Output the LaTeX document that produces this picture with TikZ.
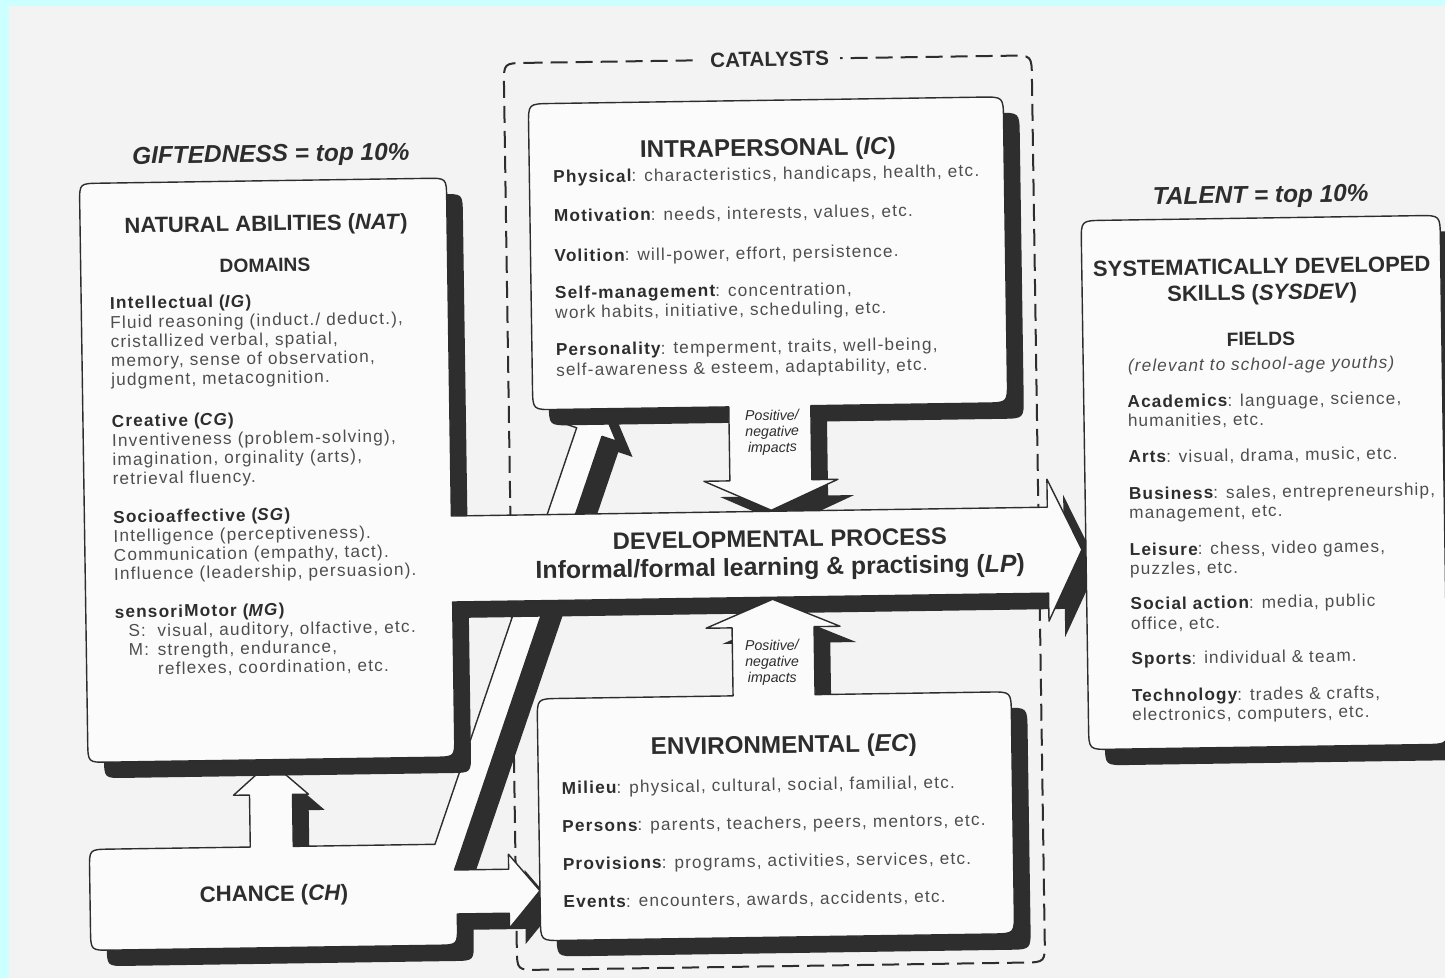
\documentclass[tikz,border=0pt]{standalone}
\usepackage{fontspec}
\setmainfont{Liberation Sans}
\newfontfamily\bodyfont[LetterSpace=7]{Liberation Sans}
\newfontfamily\fieldfont[LetterSpace=6.5]{Liberation Sans}
\definecolor{cyanbg}{RGB}{204,255,255}
\definecolor{paper}{RGB}{243,243,243}
\definecolor{boxfill}{RGB}{251,251,251}
\definecolor{shade}{RGB}{46,46,46}
\definecolor{ink}{RGB}{45,45,45}
\definecolor{bodyink}{RGB}{78,78,78}
\newcommand\keyterm[1]{\textcolor{ink}{\bfseries #1}}
\newcommand\bodysize{\bodyfont\fontsize{8.6}{10}\selectfont}
\newcommand\fieldsize{\fieldfont\fontsize{8.6}{10}\selectfont}
\begin{document}
\begin{tikzpicture}[x=0.5pt,y=-0.5pt,
  shadowfill/.style={fill=shade,draw=none},
  boxface/.style={fill=boxfill,draw=ink,line width=0.7pt,line join=round},
  catalyst/.style={draw=ink,line width=1pt,dash pattern=on 8.5pt off 4pt},
  body/.style={font=\bodysize,text=bodyink,inner sep=0pt,anchor=base west},
  field/.style={font=\fieldsize,text=bodyink,inner sep=0pt,anchor=base west},
  bigtitle/.style={font=\bfseries\fontsize{12.1}{14}\selectfont,text=ink,inner sep=0pt,anchor=base},
  headline/.style={font=\bfseries\itshape\fontsize{12.2}{14}\selectfont,text=ink,inner sep=0pt,anchor=base},
  subhead/.style={font=\bfseries\fontsize{9.6}{12}\selectfont,text=ink,inner sep=0pt,anchor=base},
  impact/.style={font=\itshape\fontsize{7.1}{8}\selectfont,text=ink,inner sep=0pt,anchor=base}]
\useasboundingbox (0,0) rectangle (1445,978);
\fill[cyanbg] (0,0) rectangle (1445,978);
\fill[paper] (9,6) rectangle (1445,978);

% outlines of the merged box-and-arrow shapes
\def\pathchance{(104,840) -- (245,840) -- (245,788) -- (229,788) -- (266.5,755) -- (304,788) -- (288,788) -- (288,840) -- (429.7,840) -- (577.6,425.6) -- (563.4,420.6) -- (601,400) -- (617,439.6) -- (602.8,434.6) -- (448.9,866) -- (503,866) -- (503,851) -- (534,888) -- (503,925) -- (503,910) -- (451,910) -- (451,921) .. controls (451,941) .. (431,941) -- (104,941) .. controls (84,941) .. (84,921) -- (84,860) .. controls (84,840) .. (104,840) -- cycle}
\def\pathic{(556,101) -- (987,101) .. controls (1009,101) .. (1009,123) -- (1009,385) .. controls (1009,407) .. (987,407) -- (812,407) -- (812,481) -- (838,481) -- (771,511) -- (704,481) -- (730,481) -- (730,407) -- (556,407) .. controls (534,407) .. (534,385) -- (534,123) .. controls (534,101) .. (556,101) -- cycle}
\def\pathnat{(104,174) -- (431,174) .. controls (451,174) .. (451,194) -- (451,512) -- (1047,512) -- (1047,484) -- (1081,555) -- (1047,626) -- (1047,598) -- (451,598) -- (451,733) .. controls (451,753) .. (431,753) -- (104,753) .. controls (84,753) .. (84,733) -- (84,194) .. controls (84,174) .. (104,174) -- cycle}
\def\pathec{(556,696) -- (730,696) -- (730,628) -- (704,628) -- (771,600) -- (838,628) -- (812,628) -- (812,696) -- (986,696) .. controls (1008,696) .. (1008,718) -- (1008,916) .. controls (1008,938) .. (986,938) -- (556,938) .. controls (534,938) .. (534,916) -- (534,718) .. controls (534,696) .. (556,696) -- cycle}
\def\pathsys{(1107,226) -- (1422,226) .. controls (1444,226) .. (1444,248) -- (1444,733) .. controls (1444,755) .. (1422,755) -- (1107,755) .. controls (1085,755) .. (1085,733) -- (1085,248) .. controls (1085,226) .. (1107,226) -- cycle}

\begin{scope}
\clip (9,6) rectangle (1445,978);
\begin{scope}[rotate around={0.85:(722.5,489)},transform shape]

% catalysts frame
\draw[catalyst] (532,60) -- (1016,60) .. controls (1038,60) .. (1038,82) -- (1038,945) .. controls (1038,967) .. (1016,967) -- (532,967) .. controls (510,967) .. (510,945) -- (510,82) .. controls (510,60) .. (532,60) -- cycle;
\node[font=\bfseries\fontsize{10.3}{12}\selectfont,text=ink,fill=paper,inner xsep=5.5pt,inner ysep=2pt] (catalysts) at (776,60) {CATALYSTS};

% shapes, back to front
\fill[shadowfill,shift={(16,16)}] \pathchance;
\path[boxface] \pathchance;
\fill[shadowfill,shift={(16,16)}] \pathic;
\path[boxface] \pathic;
\fill[shadowfill,shift={(16,16)}] \pathnat;
\path[boxface] \pathnat;
\fill[shadowfill,shift={(16,16)}] \pathec;
\path[boxface] \pathec;
\fill[shadowfill,shift={(16,16)}] \pathsys;
\path[boxface] \pathsys;

% headings above the columns
\node[headline] (gifted) at (275.8,155.3) {GIFTEDNESS = top 10\%};
\node[headline] (talent) at (1265,211) {TALENT = top 10\%};

% natural abilities
\node[bigtitle,font=\bfseries\fontsize{11}{13}\selectfont] (natTitle) at (270,224.3) {NATURAL ABILITIES (\textit{NAT})};
\node[subhead] (domains) at (268.3,265.2) {DOMAINS};
\node[body] (igA) at (112.5,300) {\keyterm{Intellectual (\textit{IG})}};
\node[body] (igB) at (112.5,319.2) {Fluid reasoning (induct./ deduct.),};
\node[body] (igC) at (112.5,338.4) {cristallized verbal, spatial,};
\node[body] (igD) at (112.5,357.6) {memory, sense of observation,};
\node[body] (igE) at (112.5,376.8) {judgment, metacognition.};
\node[body] (cgA) at (112.5,418) {\keyterm{Creative (\textit{CG})}};
\node[body] (cgB) at (112.5,437.2) {Inventiveness (problem-solving),};
\node[body] (cgC) at (112.5,456.4) {imagination, orginality (arts),};
\node[body] (cgD) at (112.5,475.6) {retrieval fluency.};
\node[body] (sgA) at (112.5,514) {\keyterm{Socioaffective (\textit{SG})}};
\node[body] (sgB) at (112.5,533) {Intelligence (perceptiveness).};
\node[body] (sgC) at (112.5,552) {Communication (empathy, tact).};
\node[body] (sgD) at (112.5,571) {Influence (leadership, persuasion).};
\node[body] (mgA) at (112.5,609) {\keyterm{sensoriMotor (\textit{MG})}};
\node[body] (mgB) at (126,628) {S:};
\node[body] (mgC) at (155,628) {visual, auditory, olfactive, etc.};
\node[body] (mgD) at (126,647) {M:};
\node[body] (mgE) at (155,647) {strength, endurance,};
\node[body] (mgF) at (155,666) {reflexes, coordination, etc.};

% intrapersonal catalysts
\node[bigtitle] (icTitle) at (773,156.7) {INTRAPERSONAL (\textit{IC})};
\node[body] (icA) at (557.6,180.5) {\keyterm{Physical}: characteristics, handicaps, health, etc.};
\node[body] (icB) at (557.6,219.5) {\keyterm{Motivation}: needs, interests, values, etc.};
\node[body] (icC) at (557.6,259.5) {\keyterm{Volition}: will-power, effort, persistence.};
\node[body] (icD) at (557.6,296.5) {\keyterm{Self-management}: concentration,};
\node[body] (icE) at (557.6,316) {work habits, initiative, scheduling, etc.};
\node[body] (icF) at (557.6,353.2) {\keyterm{Personality}: temperment, traits, well-being,};
\node[body] (icG) at (557.6,373.6) {self-awareness \& esteem, adaptability, etc.};
\node[impact] (impDownA) at (773,421) {Positive/};
\node[impact] (impDownB) at (773,437) {negative};
\node[impact] (impDownC) at (773,453) {impacts};

% developmental process
\node[bigtitle,font=\bfseries\fontsize{11.9}{14}\selectfont] (lpTitle) at (779,548) {DEVELOPMENTAL PROCESS};
\node[bigtitle,font=\bfseries\fontsize{12.4}{14}\selectfont] (lpSub) at (779,576.2) {Informal/formal learning \& practising (\textit{LP})};

% environmental catalysts
\node[impact] (impUpA) at (769.5,651) {Positive/};
\node[impact] (impUpB) at (769.5,667) {negative};
\node[impact] (impUpC) at (769.5,683) {impacts};
\node[bigtitle] (ecTitle) at (780,753.9) {ENVIRONMENTAL (\textit{EC})};
\node[body] (ecA) at (557,791.6) {\keyterm{Milieu}: physical, cultural, social, familial, etc.};
\node[body] (ecB) at (557,829.6) {\keyterm{Persons}: parents, teachers, peers, mentors, etc.};
\node[body] (ecC) at (557,867.6) {\keyterm{Provisions}: programs, activities, services, etc.};
\node[body] (ecD) at (557,905.6) {\keyterm{Events}: encounters, awards, accidents, etc.};

% chance
\node[bigtitle,font=\bfseries\fontsize{11.1}{13}\selectfont] (chance) at (268,894.4) {CHANCE (\textit{CH})};

% systematically developed skills
\node[bigtitle,font=\bfseries\fontsize{11}{13}\selectfont] (sysA) at (1265,282) {SYSTEMATICALLY DEVELOPED};
\node[bigtitle,font=\bfseries\fontsize{11}{13}\selectfont] (sysB) at (1265,308) {SKILLS (\textit{SYSDEV})};
\node[subhead] (fields) at (1263,353.5) {FIELDS};
\node[field,anchor=base,font=\itshape\fieldsize] (relevant) at (1263,378) {(relevant to school-age youths)};
\node[field] (fA) at (1128.5,414) {\keyterm{Academics}: language, science,};
\node[field] (fB) at (1128.5,433) {humanities, etc.};
\node[field] (fC) at (1128.5,469) {\keyterm{Arts}: visual, drama, music, etc.};
\node[field] (fD) at (1128.5,506) {\keyterm{Business}: sales, entrepreneurship,};
\node[field] (fE) at (1128.5,525) {management, etc.};
\node[field] (fF) at (1128.5,562) {\keyterm{Leisure}: chess, video games,};
\node[field] (fG) at (1128.5,581) {puzzles, etc.};
\node[field] (fH) at (1128.5,616) {\keyterm{Social action}: media, public};
\node[field] (fI) at (1128.5,636) {office, etc.};
\node[field] (fJ) at (1128.5,671) {\keyterm{Sports}: individual \& team.};
\node[field] (fK) at (1128.5,708) {\keyterm{Technology}: trades \& crafts,};
\node[field] (fL) at (1128.5,727) {electronics, computers, etc.};

\end{scope}
\end{scope}
\end{tikzpicture}
\end{document}
